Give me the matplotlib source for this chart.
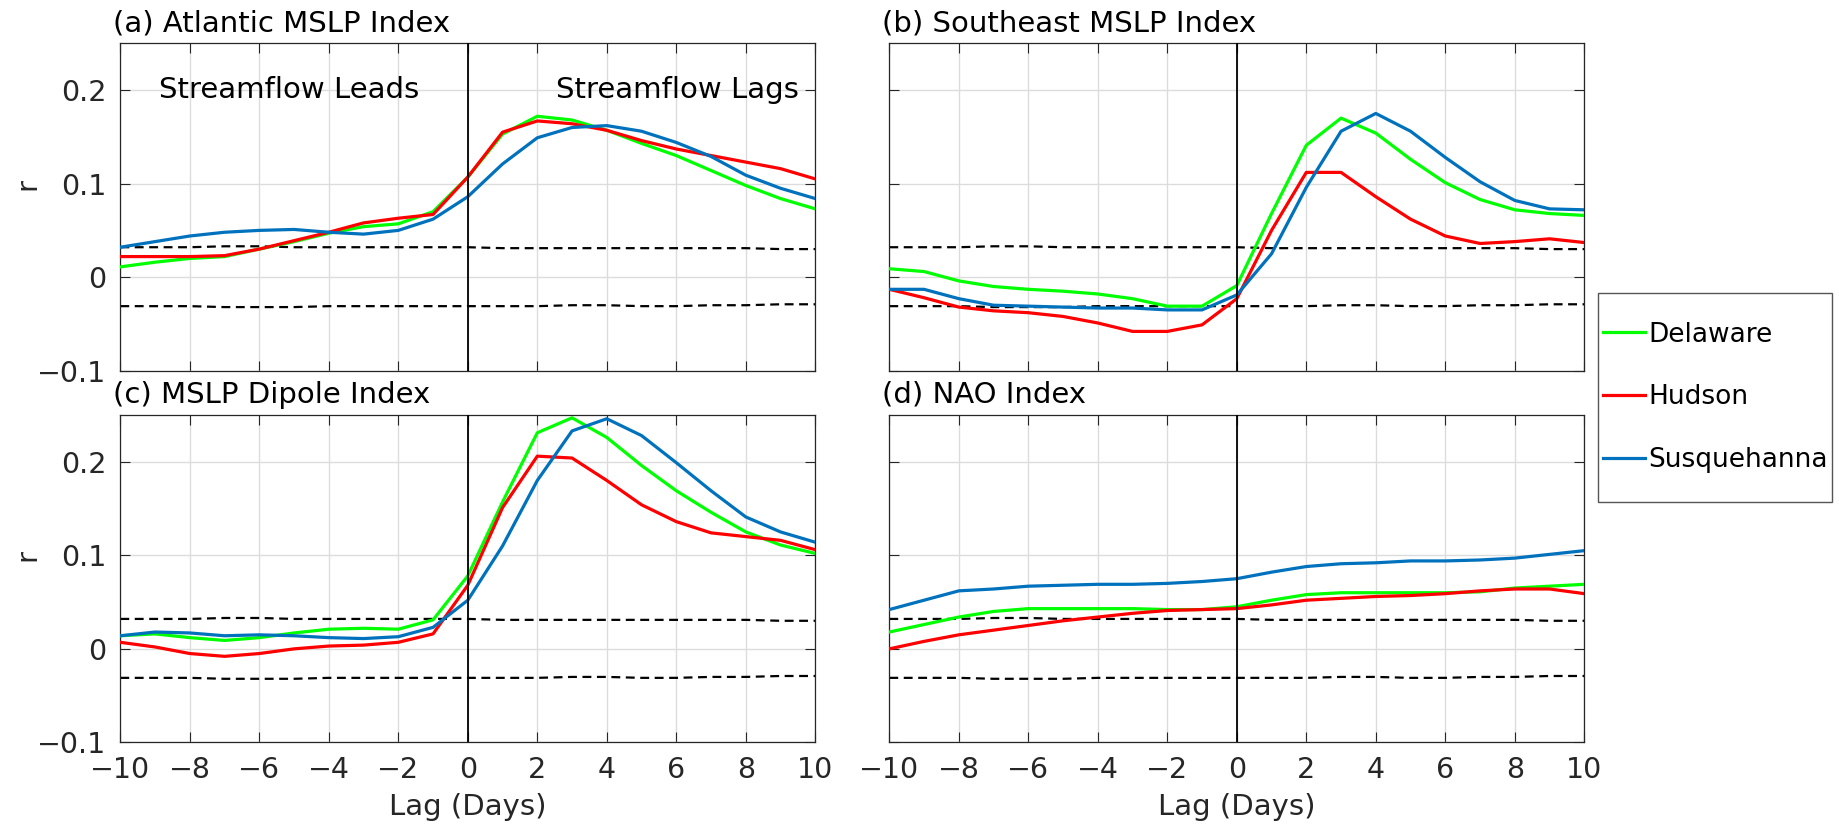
import matplotlib
matplotlib.use('Agg')
from matplotlib import pyplot as plt
from matplotlib.patches import Rectangle
from matplotlib.lines import Line2D
import numpy as np

plt.rcParams['font.family'] = ['DejaVu Sans']

lag = np.arange(-10, 11)

# 95% significance bounds (same for all indices)
sig_hi = [0.032, 0.032, 0.032, 0.033, 0.033, 0.032, 0.032, 0.032, 0.032, 0.032, 0.032,
          0.031, 0.031, 0.031, 0.031, 0.031, 0.031, 0.031, 0.031, 0.030, 0.030]
sig_lo = [-0.031, -0.031, -0.031, -0.032, -0.032, -0.032, -0.031, -0.031, -0.031, -0.031, -0.031,
          -0.031, -0.031, -0.030, -0.030, -0.031, -0.031, -0.030, -0.030, -0.029, -0.029]

# (a) Atlantic MSLP
atl_del = [0.011, 0.016, 0.020, 0.022, 0.030, 0.038, 0.047, 0.054, 0.057, 0.070, 0.107,
           0.153, 0.172, 0.168, 0.157, 0.143, 0.130, 0.114, 0.098, 0.084, 0.073]
atl_hud = [0.022, 0.022, 0.022, 0.023, 0.030, 0.039, 0.048, 0.058, 0.063, 0.067, 0.107,
           0.155, 0.167, 0.164, 0.157, 0.146, 0.137, 0.130, 0.123, 0.116, 0.105]
atl_sus = [0.032, 0.038, 0.044, 0.048, 0.050, 0.051, 0.048, 0.046, 0.050, 0.062, 0.086,
           0.121, 0.149, 0.160, 0.162, 0.156, 0.144, 0.129, 0.109, 0.095, 0.084]

# (b) Southeast MSLP
se_del = [0.009, 0.006, -0.004, -0.010, -0.013, -0.015, -0.018, -0.023, -0.031, -0.031, -0.009,
          0.068, 0.141, 0.170, 0.154, 0.126, 0.101, 0.083, 0.072, 0.068, 0.066]
se_hud = [-0.013, -0.022, -0.032, -0.036, -0.038, -0.042, -0.049, -0.058, -0.058, -0.051, -0.023,
          0.050, 0.112, 0.112, 0.086, 0.062, 0.044, 0.036, 0.038, 0.041, 0.037]
se_sus = [-0.013, -0.013, -0.023, -0.030, -0.031, -0.032, -0.033, -0.033, -0.035, -0.035, -0.019,
          0.025, 0.096, 0.156, 0.175, 0.156, 0.128, 0.102, 0.082, 0.073, 0.072]

# (c) MSLP dipole
dip_del = [0.014, 0.016, 0.012, 0.009, 0.012, 0.017, 0.021, 0.022, 0.021, 0.031, 0.078,
           0.157, 0.231, 0.247, 0.226, 0.196, 0.169, 0.146, 0.125, 0.111, 0.102]
dip_hud = [0.007, 0.002, -0.005, -0.008, -0.005, 0.000, 0.003, 0.004, 0.007, 0.016, 0.068,
           0.151, 0.206, 0.204, 0.180, 0.154, 0.136, 0.124, 0.120, 0.116, 0.106]
dip_sus = [0.014, 0.018, 0.017, 0.014, 0.015, 0.014, 0.012, 0.011, 0.013, 0.023, 0.052,
           0.110, 0.180, 0.233, 0.246, 0.228, 0.199, 0.169, 0.141, 0.125, 0.114]

# (d) NAO
nao_del = [0.018, 0.026, 0.034, 0.040, 0.043, 0.043, 0.043, 0.043, 0.042, 0.042, 0.045,
           0.052, 0.058, 0.060, 0.060, 0.060, 0.060, 0.061, 0.065, 0.067, 0.069]
nao_hud = [0.000, 0.008, 0.015, 0.020, 0.025, 0.030, 0.034, 0.038, 0.041, 0.042, 0.043,
           0.047, 0.052, 0.054, 0.056, 0.057, 0.059, 0.062, 0.064, 0.064, 0.059]
nao_sus = [0.042, 0.052, 0.062, 0.064, 0.067, 0.068, 0.069, 0.069, 0.070, 0.072, 0.075,
           0.082, 0.088, 0.091, 0.092, 0.094, 0.094, 0.095, 0.097, 0.101, 0.105]

titles = ['(a) Atlantic MSLP Index', '(b) Southeast MSLP Index',
          '(c) MSLP Dipole Index', '(d) NAO Index']
panels = [(atl_del, atl_hud, atl_sus), (se_del, se_hud, se_sus),
          (dip_del, dip_hud, dip_sus), (nao_del, nao_hud, nao_sus)]
rivers = ['Delaware', 'Hudson', 'Susquehanna']
colors = ['#00ff00', '#ff0000', '#0072bd']

fig = plt.figure(figsize=(18.39, 8.27), dpi=100)
W, H = 1839.0, 827.0
lefts = [120.3, 889.3]
tops = [43.3, 415.0]
aw, ah = 695.0, 327.4

axes = []
for i in range(4):
    r, c = divmod(i, 2)
    ax = fig.add_axes([lefts[c] / W, 1 - (tops[r] + ah) / H, aw / W, ah / H])
    axes.append(ax)

tick_col = '#262626'
for i, ax in enumerate(axes):
    r, c = divmod(i, 2)
    for k, series in enumerate(panels[i]):
        ax.plot(lag, series, color=colors[k], lw=2.3, zorder=3)
    ax.plot(lag, sig_hi, color='k', lw=1.6, dashes=(4, 2.5), zorder=2)
    ax.plot(lag, sig_lo, color='k', lw=1.6, dashes=(4, 2.5), zorder=2)
    ax.axvline(0, color='k', lw=1.3, zorder=4)
    ax.set_xlim(-10, 10)
    ax.set_ylim(-0.1, 0.25)
    ax.set_xticks(np.arange(-10, 11, 2))
    ax.set_yticks([-0.1, 0, 0.1, 0.2])
    ax.set_yticklabels(['\u22120.1', '0', '0.1', '0.2'])
    ax.set_xticklabels([('\u2212' + str(-v)) if v < 0 else str(v) for v in range(-10, 11, 2)])
    ax.grid(True, color='#dcdcdc', lw=1.0, zorder=0)
    ax.set_axisbelow(True)
    ax.tick_params(direction='in', length=7, width=0.8, color=tick_col,
                   labelcolor=tick_col, labelsize=20.5, top=True, right=True, pad=10)
    for s in ax.spines.values():
        s.set_color(tick_col)
        s.set_linewidth(0.9)
    if r == 0:
        ax.tick_params(labelbottom=False)
    else:
        ax.set_xlabel('Lag (Days)', fontsize=21, color=tick_col, labelpad=6)
    if c == 1:
        ax.tick_params(labelleft=False)
    else:
        ax.set_ylabel('r', fontsize=21, color=tick_col)
        ax.yaxis.set_label_coords(-0.113, 0.571)
    ax.text(-0.0107, 1.037, titles[i], transform=ax.transAxes, fontsize=21,
            ha='left', va='baseline', color='k')

axes[0].text(-8.9, 0.192, 'Streamflow Leads', fontsize=21, ha='left', va='baseline')
axes[0].text(2.54, 0.192, 'Streamflow Lags', fontsize=21, ha='left', va='baseline')

# legend box on the right
fig.patches.append(Rectangle((1597.7 / W, 1 - 502.0 / H), (1832 - 1597.7) / W,
                             (502.0 - 292.7) / H, transform=fig.transFigure,
                             fill=False, edgecolor='#555555', lw=1.0))
handles = [Line2D([0], [0], color=colors[k], lw=2.3) for k in range(3)]
fig.legend(handles, rivers, loc='center left', bbox_to_anchor=(1603 / W, 1 - 397.5 / H),
           frameon=False, fontsize=19, handlelength=1.6, handletextpad=0.12,
           labelspacing=1.4, borderpad=0, borderaxespad=0)

fig.savefig('out.png', dpi=100)
